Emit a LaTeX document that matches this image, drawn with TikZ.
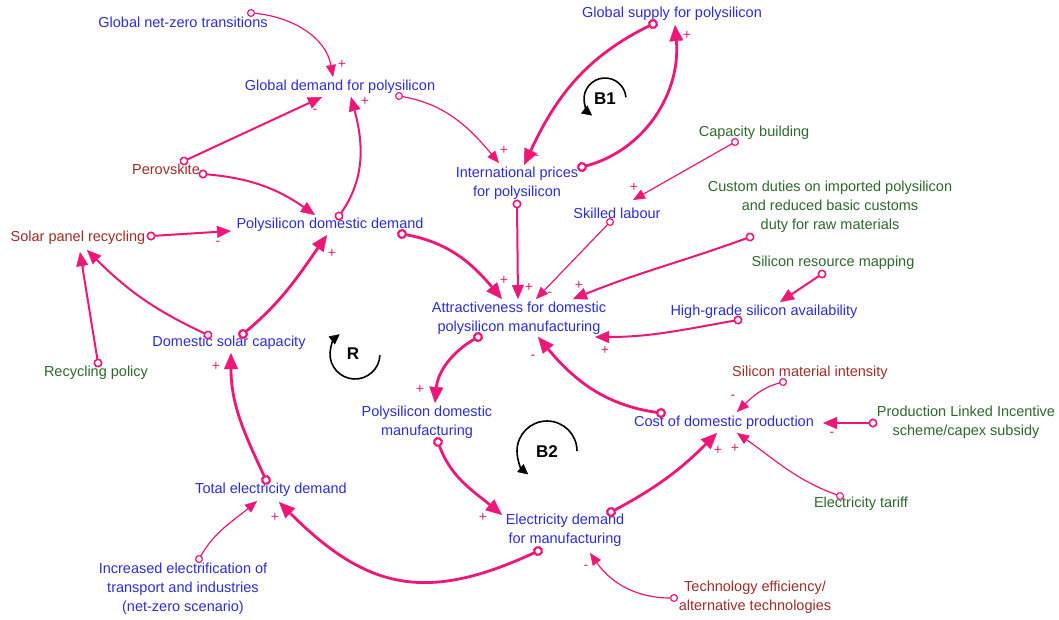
\documentclass[tikz,border=0pt]{standalone}
\usepackage{fontspec}
\setmainfont{Liberation Sans}
\usetikzlibrary{arrows.meta}
\definecolor{lpink}{RGB}{238,22,118}
\definecolor{spink}{RGB}{215,35,120}
\definecolor{tblue}{RGB}{45,45,215}
\definecolor{tred}{RGB}{160,45,40}
\definecolor{tgreen}{RGB}{45,105,45}
\begin{document}
\begin{tikzpicture}[x=1pt,y=1pt,
  var/.style={font=\fontsize{14.5}{19}\selectfont, align=center, inner sep=0pt},
  vb/.style={var,text=tblue},
  vr/.style={var,text=tred},
  vg/.style={var,text=tgreen},
  lkthin/.style={draw=lpink, line width=1.2pt, shorten <=-4pt,
    {Circle[fill=white,length=8pt,width=8pt,line width=1.2pt]}-{Triangle[length=12pt,width=10pt,line width=0.4pt]}},
  lkmed/.style={draw=lpink, line width=2pt, shorten <=-4.5pt,
    {Circle[fill=white,length=9pt,width=9pt,line width=1.6pt]}-{Triangle[length=14pt,width=12pt,line width=0.4pt]}},
  lkthick/.style={draw=lpink, line width=2.8pt, shorten <=-5pt,
    {Circle[fill=white,length=10pt,width=10pt,line width=2.2pt]}-{Triangle[length=16pt,width=14pt,line width=0.4pt]}},
  sg/.style={text=spink, font=\fontsize{14}{14}\selectfont, inner sep=0pt},
  loopl/.style={font=\bfseries\fontsize{17}{17}\selectfont, inner sep=0pt},
  looparc/.style={draw=black, line width=1.6pt, -{Triangle[length=10pt,width=10pt,line width=0.4pt]}}
]
\fill[white] (0,0) rectangle (1059,-619);
\useasboundingbox (0,0) rectangle (1059,-619);

% variables
\node[vb] (gnz) at (183,-22) {Global net-zero transitions};
\node[vb] (gdp) at (340,-87) {Global demand for polysilicon};
\node[vb] (gsp) at (672,-14) {Global supply for polysilicon};
\node[vb] (ipp) at (517,-183) {International prices\\for polysilicon};
\node[vg] (cb) at (754,-133) {Capacity building};
\node[vb] (sl) at (617,-213) {Skilled labour};
\node[vg] (cd) at (830,-207) {Custom duties on imported polysilicon\\and reduced basic customs\\duty for raw materials};
\node[vg] (srm) at (833,-263) {Silicon resource mapping};
\node[vb] (hgs) at (764,-312) {High-grade silicon availability};
\node[vb] (adp) at (519,-318) {Attractiveness for domestic\\polysilicon manufacturing};
\node[vr] (perov) at (166,-169) {Perovskite};
\node[vb] (pdd) at (330,-225) {Polysilicon domestic demand};
\node[vr] (spr) at (78,-238) {Solar panel recycling};
\node[vb] (dsc) at (229,-343) {Domestic solar capacity};
\node[vg] (rp) at (96,-373) {Recycling policy};
\node[vb] (pdm) at (427,-422) {Polysilicon domestic\\manufacturing};
\node[vb] (cdp) at (724,-423) {Cost of domestic production};
\node[vr] (smi) at (810,-373) {Silicon material intensity};
\node[vg] (pli) at (966,-422) {Production Linked Incentive\\scheme/capex subsidy};
\node[vg] (et) at (861,-504) {Electricity tariff};
\node[vb] (edm) at (565,-530) {Electricity demand\\for manufacturing};
\node[vb] (ted) at (271,-490) {Total electricity demand};
\node[vb] (iet) at (183,-589) {Increased electrification of\\transport and industries\\(net-zero scenario)};
\node[vr] (tea) at (755,-597) {Technology efficiency/\\alternative technologies};

% loop markers
\node[loopl] (lb1) at (605,-99) {B1};
\node[loopl] (lr) at (353,-354) {R};
\node[loopl] (lb2) at (547,-452) {B2};
\draw[looparc] ([shift={(5:21)}]605,-99) arc[start angle=5, end angle=232, radius=21];
\draw[looparc] ([shift={(-3:25)}]355,-354) arc[start angle=-3, end angle=-232, radius=25];
\draw[looparc] ([shift={(0:30)}]547,-451) arc[start angle=0, end angle=231, radius=30];

% connectors
\draw[lkthin] ([shift={(68,9)}]gnz.center) to[out=-5,in=100] ([shift={(-7,10)}]gdp.center);
\draw[lkmed] ([shift={(18,8)}]perov.center) -- ([shift={(-18,-10)}]gdp.center);
\draw[lkmed] ([shift={(9,9)}]pdd.center) to[out=55,in=-75] ([shift={(11,-10)}]gdp.center);
\draw[lkthin] ([shift={(59,-9)}]gdp.center) to[out=-10,in=130] ([shift={(-18,20)}]ipp.center);
\draw[lkthick] ([shift={(-19,-10)}]gsp.center) to[out=206,in=65] ([shift={(7,18)}]ipp.center);
\draw[lkthick] ([shift={(65,16)}]ipp.center) to[out=15,in=-85] ([shift={(3,-11)}]gsp.center);
\draw[lkthin] ([shift={(-19,-9)}]cb.center) -- ([shift={(16,13)}]sl.center);
\draw[lkmed] ([shift={(37,-5)}]perov.center) to[out=-5,in=145] ([shift={(-15,10)}]pdd.center);
\draw[lkmed] ([shift={(73,2)}]spr.center) -- ([shift={(-99,-6)}]pdd.center);
\draw[lkmed] ([shift={(-21,8)}]dsc.center) to[out=155,in=-45] ([shift={(9,-12)}]spr.center);
\draw[lkthick] ([shift={(14,9)}]dsc.center) to[out=40,in=-125] ([shift={(-3,-10)}]pdd.center);
\draw[lkmed] ([shift={(2,10)}]rp.center) -- ([shift={(2,-14)}]spr.center);
\draw[lkthick] ([shift={(72,-9)}]pdd.center) to[out=-10,in=130] ([shift={(-17,19)}]adp.center);
\draw[lkmed] ([shift={(0,-21)}]ipp.center) -- ([shift={(-1,19)}]adp.center);
\draw[lkthin] ([shift={(-7,-9)}]sl.center) -- ([shift={(17,19)}]adp.center);
\draw[lkmed] ([shift={(-80,-30)}]cd.center) to[out=200,in=22] ([shift={(54,19)}]adp.center);
\draw[lkmed] ([shift={(-11,-11)}]srm.center) -- ([shift={(16,10)}]hgs.center);
\draw[lkmed] ([shift={(-26,-8)}]hgs.center) to[out=190,in=0] ([shift={(76,-19)}]adp.center);
\draw[lkthick] ([shift={(-41,-19)}]adp.center) to[out=210,in=85] ([shift={(8,19)}]pdm.center);
\draw[lkthick] ([shift={(-63,10)}]cdp.center) to[out=172,in=-50] ([shift={(19,-19)}]adp.center);
\draw[lkthin] ([shift={(-27,-9)}]smi.center) to[out=195,in=45] ([shift={(13,11)}]cdp.center);
\draw[lkmed] ([shift={(-93,-1)}]pli.center) -- ([shift={(99,0)}]cdp.center);
\draw[lkthin] ([shift={(-21,8)}]et.center) to[out=160,in=-35] ([shift={(13,-10)}]cdp.center);
\draw[lkthick] ([shift={(46,18)}]edm.center) to[out=28,in=-135] ([shift={(-7,-10)}]cdp.center);
\draw[lkthick] ([shift={(11,-20)}]pdm.center) to[out=-70,in=140] ([shift={(-63,15)}]edm.center);
\draw[lkthick] ([shift={(-27,-21)}]edm.center) to[out=205,in=-45,looseness=1.2] ([shift={(8,-12)}]ted.center);
\draw[lkthick] ([shift={(-5,10)}]ted.center) to[out=115,in=-90] ([shift={(2,-10)}]dsc.center);
\draw[lkthin] ([shift={(16,30)}]iet.center) to[out=60,in=-140] ([shift={(-14,-11)}]ted.center);
\draw[lkthin] ([shift={(-81,-1)}]tea.center) to[out=180,in=-55] ([shift={(25,-23)}]edm.center);

% polarity signs
\node[sg] (s1) at (342,-64) {+};
\node[sg] (s2) at (315,-111) {-};
\node[sg] (s3) at (365,-101) {+};
\node[sg] (s4) at (504,-150) {+};
\node[sg] (s5) at (537,-157) {-};
\node[sg] (s6) at (687,-35) {+};
\node[sg] (s7) at (634,-187) {+};
\node[sg] (s8) at (218,-243) {-};
\node[sg] (s9) at (84,-265) {+};
\node[sg] (s10) at (332,-253) {+};
\node[sg] (s11) at (504,-280) {+};
\node[sg] (s12) at (529,-287) {+};
\node[sg] (s13) at (550,-294) {-};
\node[sg] (s14) at (579,-285) {+};
\node[sg] (s15) at (605,-350) {+};
\node[sg] (s16) at (420,-389) {+};
\node[sg] (s17) at (533,-357) {-};
\node[sg] (s18) at (733,-397) {-};
\node[sg] (s19) at (832,-434) {-};
\node[sg] (s20) at (735,-448) {+};
\node[sg] (s21) at (718,-450) {+};
\node[sg] (s22) at (483,-517) {+};
\node[sg] (s23) at (275,-517) {+};
\node[sg] (s24) at (216,-366) {+};
\node[sg] (s25) at (586,-567) {-};
\end{tikzpicture}
\end{document}
